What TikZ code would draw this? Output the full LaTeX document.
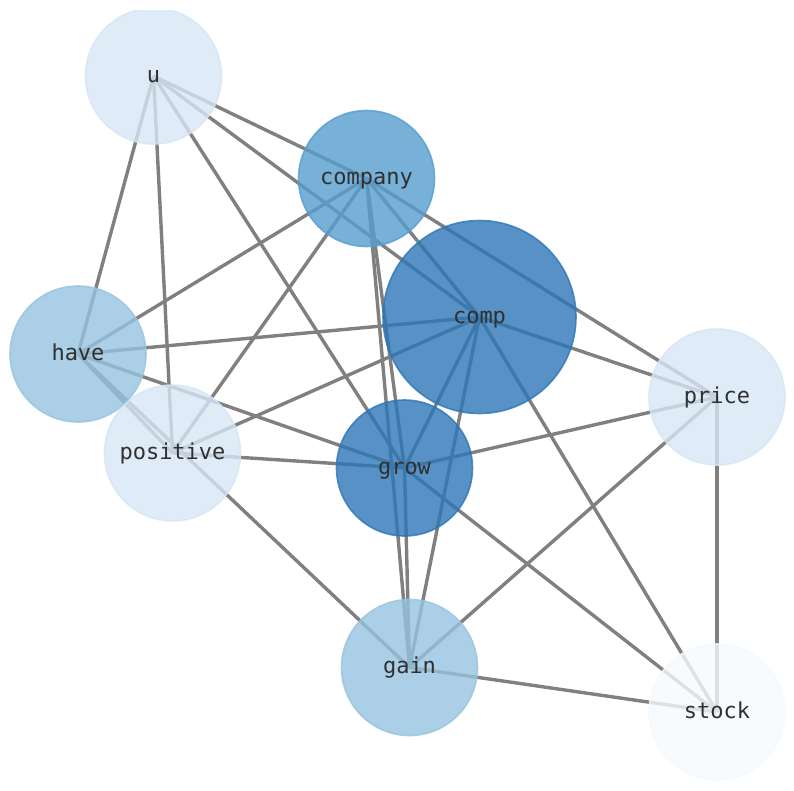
\documentclass[tikz,border=0pt]{standalone}
\usepackage{fontspec}
\setmonofont{DejaVu Sans Mono}
\definecolor{bA}{RGB}{245,250,254}
\definecolor{bB}{RGB}{215,230,244}
\definecolor{bC}{RGB}{150,196,224}
\definecolor{bD}{RGB}{86,158,206}
\definecolor{bE}{RGB}{45,118,183}
\definecolor{edgegray}{RGB}{128,128,128}
\definecolor{labelc}{RGB}{48,48,48}
\tikzset{
  vert/.style={circle, inner sep=0pt, minimum size=136pt, line width=1.6pt,
    fill opacity=0.8, draw opacity=0.8, text opacity=1, text=labelc,
    text height=16pt, text depth=4pt,
    font=\ttfamily\fontsize{22}{26}\selectfont},
  big/.style={minimum size=193pt},
  link/.style={draw=edgegray, line width=3.4pt}
}
\begin{document}
\begin{tikzpicture}[x=1pt,y=-1pt]
\useasboundingbox (0,0) rectangle (794,790);
\fill[white] (0,0) rectangle (794,790);
\begin{scope}
\clip (0,10) rectangle (794,780);
\coordinate (u) at (153.5,76);
\coordinate (company) at (366.5,178.5);
\coordinate (comp) at (479.5,317);
\coordinate (have) at (78,354);
\coordinate (positive) at (172.5,453);
\coordinate (grow) at (404.5,468);
\coordinate (price) at (717,397);
\coordinate (gain) at (409.5,667.5);
\coordinate (stock) at (717,712);
\foreach \a/\b in {u/company,u/comp,u/have,u/positive,u/grow,
  company/comp,company/have,company/positive,company/grow,company/gain,company/price,
  comp/have,comp/positive,comp/grow,comp/gain,comp/price,comp/stock,
  have/positive,have/grow,have/gain,positive/grow,
  grow/price,grow/gain,grow/stock,price/gain,price/stock,gain/stock}
  \draw[link] (\a) -- (\b);
\node[vert, fill=bB, draw=bB] (n-u) at (u) {u};
\node[vert, fill=bD, draw=bD] (n-company) at (company) {company};
\node[vert, big, fill=bE, draw=bE] (n-comp) at (comp) {comp};
\node[vert, fill=bC, draw=bC] (n-have) at (have) {have};
\node[vert, fill=bB, draw=bB] (n-positive) at (positive) {positive};
\node[vert, fill=bE, draw=bE] (n-grow) at (grow) {grow};
\node[vert, fill=bB, draw=bB] (n-price) at (price) {price};
\node[vert, fill=bC, draw=bC] (n-gain) at (gain) {gain};
\node[vert, fill=bA, draw=bA] (n-stock) at (stock) {stock};
\end{scope}
\end{tikzpicture}
\end{document}
